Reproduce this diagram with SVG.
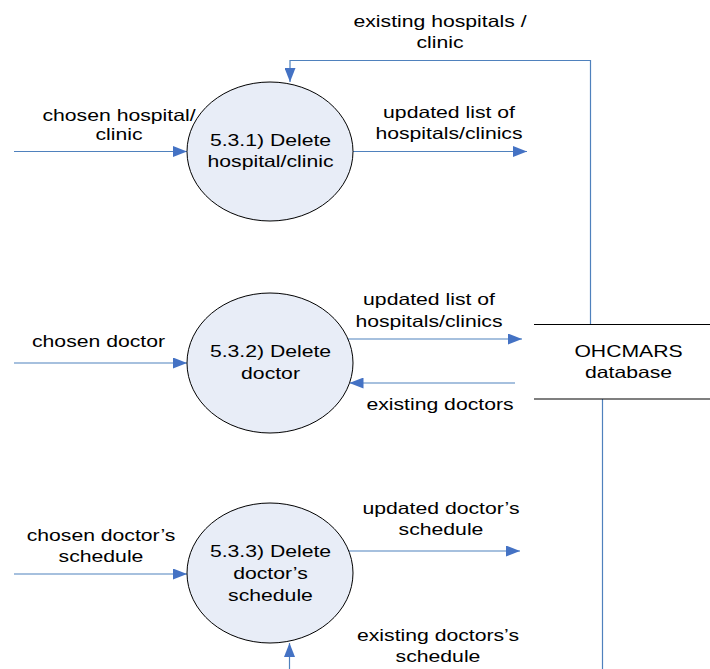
<svg xmlns="http://www.w3.org/2000/svg" width="710" height="669" viewBox="0 0 710 669">
<style>
.bg{fill:#ffffff}
.proc{fill:#e8edf7;stroke:#000000;stroke-width:1}
.store{stroke:#000000;stroke-width:1.2;fill:none}
.flow{stroke:#4f81bd;stroke-width:1.2;fill:none}
.t{font-family:"Liberation Sans",Arial,sans-serif;font-size:16.3px;fill:#000000;text-anchor:middle}
</style>
<defs>
<marker id="ah" markerUnits="userSpaceOnUse" markerWidth="14" markerHeight="11" refX="14" refY="5.5" orient="auto">
<path d="M0,0 L14,5.5 L0,11 z" fill="#4472c4"/>
</marker>
</defs>
<rect class="bg" x="0" y="0" width="710" height="669"/>

<g id="connectors">
<path id="c-existing-hosp" class="flow" d="M590.5,325 V60.5 H290 V82" marker-end="url(#ah)"/>
<path id="c-chosen-hosp" class="flow" d="M14,151.5 H187" marker-end="url(#ah)"/>
<path id="c-updated-hosp1" class="flow" d="M353,151.5 H527" marker-end="url(#ah)"/>
<path id="c-chosen-doc" class="flow" d="M14,363 H187" marker-end="url(#ah)"/>
<path id="c-updated-hosp2" class="flow" d="M348,339 H522" marker-end="url(#ah)"/>
<path id="c-existing-doc" class="flow" d="M515,383 H349.5" marker-end="url(#ah)"/>
<path id="c-chosen-sched" class="flow" d="M14,574 H187" marker-end="url(#ah)"/>
<path id="c-updated-sched" class="flow" d="M349,551 H520" marker-end="url(#ah)"/>
<path id="c-existing-sched" class="flow" d="M289.5,669 V643" marker-end="url(#ah)"/>
<path id="c-db-down" class="flow" d="M602.5,399 V669"/>

<text class="t" transform="matrix(1.3 0 0 1 440 0)"><tspan x="0" y="27">existing hospitals /</tspan><tspan x="0" y="48">clinic</tspan></text>
<text class="t" transform="matrix(1.3 0 0 1 119 0)"><tspan x="0" y="120.7">chosen hospital/</tspan><tspan x="0" y="140.5">clinic</tspan></text>
<text class="t" transform="matrix(1.3 0 0 1 449 0)"><tspan x="0" y="118.3">updated list of</tspan><tspan x="0" y="139.3">hospitals/clinics</tspan></text>
<text class="t" transform="matrix(1.3 0 0 1 98.5 0)"><tspan x="0" y="347.3">chosen doctor</tspan></text>
<text class="t" transform="matrix(1.3 0 0 1 429 0)"><tspan x="0" y="305">updated list of</tspan><tspan x="0" y="326.7">hospitals/clinics</tspan></text>
<text class="t" transform="matrix(1.3 0 0 1 440 0)"><tspan x="0" y="410">existing doctors</tspan></text>
<text class="t" transform="matrix(1.3 0 0 1 101 0)"><tspan x="0" y="540.7">chosen doctor’s</tspan><tspan x="0" y="561.7">schedule</tspan></text>
<text class="t" transform="matrix(1.3 0 0 1 441 0)"><tspan x="0" y="514">updated doctor’s</tspan><tspan x="0" y="535">schedule</tspan></text>
<text class="t" transform="matrix(1.3 0 0 1 438 0)"><tspan x="0" y="640.7">existing doctors’s</tspan><tspan x="0" y="661.7">schedule</tspan></text>
</g>

<g id="p531">
<ellipse class="proc" cx="270" cy="151.5" rx="83" ry="69.5"/>
<text class="t" transform="matrix(1.3 0 0 1 270.5 0)"><tspan x="0" y="145.7">5.3.1) Delete</tspan><tspan x="0" y="167.3">hospital/clinic</tspan></text>
</g>

<g id="p532">
<ellipse class="proc" cx="270" cy="363" rx="83" ry="70"/>
<text class="t" transform="matrix(1.3 0 0 1 270.5 0)"><tspan x="0" y="357">5.3.2) Delete</tspan><tspan x="0" y="379">doctor</tspan></text>
</g>

<g id="p533">
<ellipse class="proc" cx="270" cy="573" rx="83" ry="70"/>
<text class="t" transform="matrix(1.3 0 0 1 270.5 0)"><tspan x="0" y="556.7">5.3.3) Delete</tspan><tspan x="0" y="578.8">doctor’s</tspan><tspan x="0" y="600.7">schedule</tspan></text>
</g>

<g id="db">
<line class="store" x1="534" y1="324.5" x2="710" y2="324.5"/>
<line class="store" x1="534" y1="399" x2="710" y2="399"/>
<text class="t" transform="matrix(1.3 0 0 1 628.5 0)"><tspan x="0" y="357.3">OHCMARS</tspan><tspan x="0" y="378.5">database</tspan></text>
</g>
</svg>
